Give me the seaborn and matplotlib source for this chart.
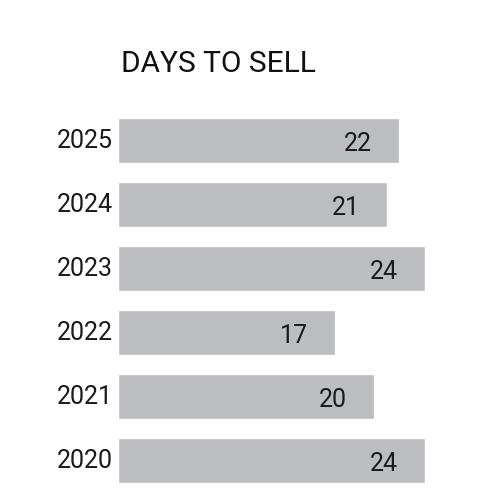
import matplotlib
matplotlib.use('Agg')
import matplotlib.pyplot as plt
import matplotlib.transforms as mtransforms
import seaborn as sns

years = ['2025', '2024', '2023', '2022', '2021', '2020']
days = [22, 21, 24, 17, 20, 24]
title = 'DAYS TO SELL'

sns.set_style('white')
plt.rcParams['font.family'] = ['Roboto', 'DejaVu Sans']

fig = plt.figure(figsize=(5, 5), dpi=100)
ax = fig.add_axes([0.236, 0.015, 0.614, 0.768])

sns.barplot(x=days, y=years, color='#bcbdc0', saturation=1, width=0.7, ax=ax)
ax.set_xlim(0, 24)
ax.set_ylim(5.5, -0.5)

# value labels inside the bar end
for p, v in zip(ax.patches, days):
    ax.annotate(f'{v}', (p.get_width(), p.get_y() + p.get_height() / 2),
                xytext=(-19.5, -2.6), textcoords='offset points',
                ha='right', va='center', fontsize=18, color='#1a1a1a')

sns.despine(ax=ax, left=True, bottom=True)
ax.set_xticks([])
ax.set_xlabel('')
ax.set_ylabel('')
ax.tick_params(axis='y', left=False, pad=0, labelsize=18, labelcolor='#1a1a1a')

shift = mtransforms.ScaledTranslation(0, 0.02, fig.dpi_scale_trans)
for lab in ax.get_yticklabels():
    lab.set_transform(lab.get_transform() + shift)

fig.text(0.242, 1 - 72 / 500, title, fontsize=21.5, ha='left', va='baseline', color='#111111')

plt.savefig('out.png', dpi=100)
